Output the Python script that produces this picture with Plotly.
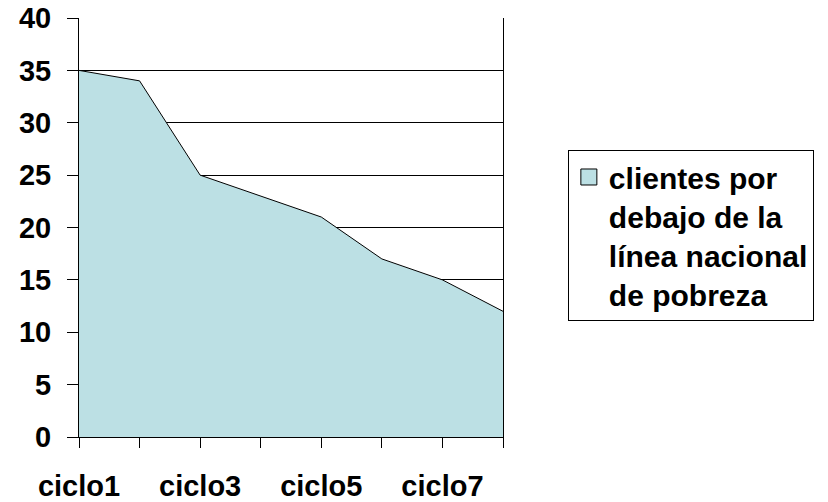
import plotly.graph_objects as go

categories = ["ciclo1", "ciclo2", "ciclo3", "ciclo4", "ciclo5", "ciclo6", "ciclo7", "ciclo8"]
values = [35, 34, 25, 23, 21, 17, 15, 12]
tick_labels = ["ciclo1", "", "ciclo3", "", "ciclo5", "", "ciclo7", ""]
y_ticks = [0, 5, 10, 15, 20, 25, 30, 35, 40]
series_name = "clientes por<br>debajo de la<br>línea nacional<br>de pobreza"

FILL = "#BCE0E4"
FAM = "Liberation Sans, Arial"

fig = go.Figure()
fig.add_trace(go.Scatter(
    x=categories, y=values, mode="lines", fill="tozeroy",
    fillcolor=FILL, line=dict(color="black", width=1),
    name=series_name, showlegend=False,
))
# legend-only entry with a square swatch
fig.add_trace(go.Scatter(
    x=[None], y=[None], mode="markers",
    marker=dict(symbol="square", size=18, color=FILL, line=dict(color="black", width=1)),
    name=series_name, showlegend=True,
))

# the page body adds an 8px offset, so the figure is 8px smaller on each axis
fig.update_layout(
    width=820, height=494,
    margin=dict(l=71, r=325, t=10, b=65, autoexpand=False),
    paper_bgcolor="white", plot_bgcolor="white",
    font=dict(family=FAM, size=29, color="black"),
    showlegend=True,
    legend=dict(
        x=1.153, y=0.685, xanchor="left", yanchor="top",
        bordercolor="black", borderwidth=1,
        font=dict(family=FAM, size=30, color="black", weight="bold"),
        valign="top", itemwidth=30,
    ),
    xaxis=dict(
        type="category", range=[0, 7], automargin=False,
        tickvals=categories, ticktext=[f"<b>{t}</b>" if t else "" for t in tick_labels],
        ticks="outside", ticklen=10, tickcolor="black", tickwidth=1,
        showline=True, linecolor="black", linewidth=1,
        showgrid=False, zeroline=False,
        ticklabelstandoff=13, ticklabeloverflow="allow",
        tickfont=dict(family=FAM, size=29, color="black"),
    ),
    yaxis=dict(
        range=[0, 40], tickvals=y_ticks, automargin=False,
        ticktext=[f"<b>{v}</b>" for v in y_ticks],
        ticks="outside", ticklen=11, tickcolor="black", tickwidth=1,
        showline=True, linecolor="black", linewidth=1, mirror=True,
        showgrid=True, gridcolor="black", gridwidth=1,
        zeroline=False,
        ticklabelstandoff=10, ticklabeloverflow="allow",
        tickfont=dict(family=FAM, size=29, color="black"),
    ),
)

fig.write_html("out.html")
